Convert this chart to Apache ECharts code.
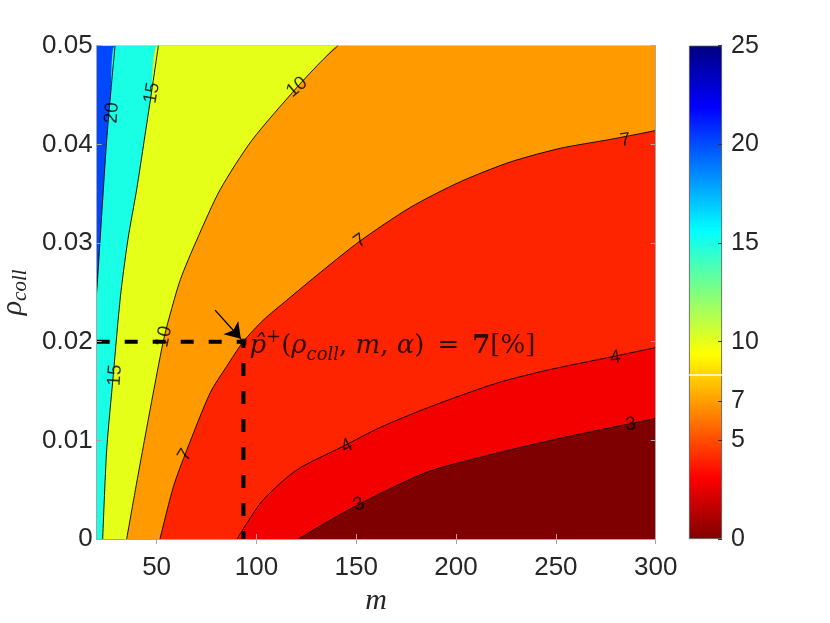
<!DOCTYPE html>
<html>
<head>
<meta charset="utf-8">
<script src="https://cdn.jsdelivr.net/npm/echarts@6/dist/echarts.min.js"></script>
<style>
html, body { margin: 0; padding: 0; background: #fff; }
#chart { width: 830px; height: 623px; }
</style>
</head>
<body>
<div id="chart"></div>
<script>
// axis ranges / ticks
var xMin = 20, xMax = 300;
var yMin = 0, yMax = 0.05;
var xTicks = [50, 100, 150, 200, 250, 300];
var cbMin = 0, cbMax = 25;
var cbTicks = [0, 5, 7, 10, 15, 20, 25];
var cbWhiteLine = 8.3;

// contour lines, points are [m, rho_coll]
var c20 = [[20, 0.025], [21.7, 0.0303], [23.2, 0.035], [25.0, 0.0404], [27.0, 0.0452], [29.2, 0.05]];
var c15 = [[23.0, 0], [25.0, 0.009], [28.3, 0.0166], [31.9, 0.0246], [35.6, 0.0303], [40.0, 0.0354], [43.8, 0.0404], [47.4, 0.0452], [50.9, 0.05]];
var c10 = [[35.0, 0], [39.4, 0.005], [43.9, 0.010], [48.6, 0.0151], [53.5, 0.0202], [56.4, 0.0225], [61.9, 0.0263], [70.1, 0.0303], [81.8, 0.0354], [97.7, 0.0404], [120.4, 0.0458], [133.4, 0.0486], [140.9, 0.05]];
var c7 = [[51.7, 0], [58.4, 0.0053], [65.1, 0.009], [76.8, 0.0148], [85.1, 0.0175], [93.4, 0.02], [103.5, 0.0222], [115.2, 0.0242], [131.9, 0.027], [151.9, 0.0302], [177.0, 0.0336], [202.0, 0.0362], [227.0, 0.0382], [252.2, 0.0396], [277.2, 0.0405], [300, 0.0414]];
var c4 = [[90.3, 0], [95.2, 0.0016], [103.5, 0.004], [120.2, 0.007], [143.5, 0.0094], [161.9, 0.0113], [187.0, 0.0134], [220.4, 0.0158], [245.4, 0.0171], [278.8, 0.0185], [300, 0.0194]];
var c3 = [[121.0, 0], [136.9, 0.0019], [150.3, 0.0034], [166.9, 0.0051], [187.0, 0.0069], [220.4, 0.0087], [245.4, 0.0099], [270.5, 0.011], [300, 0.0122]];

// band colours (flipped jet), from the band above 20 down to the band below 3
var bandTop = '#0047ff';
var bandColors = ['#19ffe6', '#e6ff19', '#ff9a00', '#ff2400', '#f50000', '#7f0000'];

// contour labels
var labelM = [27.7, 47.7, 120.3, 284.7, 151.9, 53.8, 29.2, 64.3, 145.3, 279.7, 151.4, 287.5];
var labelRho = [0.0432, 0.0452, 0.0458, 0.0404, 0.0302, 0.0205, 0.0166, 0.0085, 0.0094, 0.0184, 0.0035, 0.0116];
var labelText = ['20', '15', '10', '7', '7', '10', '15', '7', '4', '4', '3', '3'];
var labelAngle = [86, 80, 40, 8, 35, 78, 86, 60, 28, 8, 22, 6];

// picked point and arrow
var pickM = 93.5, pickRho = 0.02;
var arrowFrom = [79.3, 0.0232], arrowTo = [92.2, 0.0203];

var myChart = echarts.init(document.getElementById('chart'));
var tickColor = '#262626';
var sans = 'Liberation Sans';
var serif = 'DejaVu Serif';

var series = [];
var contours = [c20, c15, c10, c7, c4, c3];
// 填充区域
contours.forEach(function (c, i) {
    var d = c.slice();
    var last = c[c.length - 1];
    if (last[1] >= yMax && last[0] < xMax) d.push([xMax, yMax]);
    series.push({
        type: 'line', xAxisIndex: 0, yAxisIndex: 0, data: d,
        symbol: 'none', smooth: 0.25, silent: true,
        lineStyle: { width: 0 },
        areaStyle: { color: bandColors[i], opacity: 1 },
        z: 2
    });
});
// 等高线
contours.forEach(function (c) {
    series.push({
        type: 'line', xAxisIndex: 0, yAxisIndex: 0, data: c,
        symbol: 'none', smooth: 0.25, silent: true,
        lineStyle: { color: '#000', width: 0.9 },
        z: 3
    });
});
// 等高线标签
series.push({
    type: 'scatter', xAxisIndex: 0, yAxisIndex: 0, symbolSize: 0, silent: true, z: 4,
    data: labelM.map(function (m, i) {
        return {
            value: [m, labelRho[i]],
            label: { show: true, position: 'inside', formatter: labelText[i], rotate: labelAngle[i],
                fontFamily: sans, fontSize: 19, color: '#000' }
        };
    })
});
// 虚线与箭头
series.push({
    type: 'line', xAxisIndex: 0, yAxisIndex: 0,
    data: [[xMin, pickRho], [pickM, pickRho], [pickM, yMin]],
    symbol: 'none', silent: true, z: 5,
    lineStyle: { color: '#000', width: 4, type: [13, 15] },
    markLine: {
        silent: true, symbol: ['none', 'arrow'], symbolSize: 15,
        label: { show: false },
        lineStyle: { color: '#000', width: 1.3, type: 'solid' },
        data: [[{ coord: arrowFrom }, { coord: arrowTo }]]
    }
});
// 注释文字
series.push({
    type: 'scatter', xAxisIndex: 0, yAxisIndex: 0, silent: true, z: 6,
    symbol: 'rect', symbolSize: 6, itemStyle: { color: '#000' },
    data: [[pickM, pickRho]],
    label: {
        show: true, position: 'right', distance: 3, offset: [0, 5],
        formatter: '{i|p\u0302}{sup|+}{a|(}{i|\u03c1}{sub|coll}{a|, }{i|m}{a|, }{i|\u03b1}{a|)\u2002=\u2002}{b|7}{a|[%]}',
        rich: {
            a: { fontFamily: serif, fontSize: 26, color: '#000', lineHeight: 36 },
            i: { fontFamily: serif, fontStyle: 'italic', fontSize: 26, color: '#000', lineHeight: 36 },
            b: { fontFamily: serif, fontWeight: 'bold', fontSize: 26, color: '#000', lineHeight: 36 },
            sup: { fontFamily: serif, fontSize: 18, color: '#000', lineHeight: 24, verticalAlign: 'top' },
            sub: { fontFamily: serif, fontStyle: 'italic', fontSize: 18, color: '#000', lineHeight: 20, verticalAlign: 'bottom' }
        }
    }
});
// 色条
series.push({
    type: 'bar', xAxisIndex: 2, yAxisIndex: 2, data: [cbMax], barWidth: '100%', silent: true,
    itemStyle: {
        borderColor: '#555', borderWidth: 0.8,
        color: new echarts.graphic.LinearGradient(0, 0, 0, 1, [
            { offset: 0, color: '#000080' },
            { offset: 0.125, color: '#0000ff' },
            { offset: 0.375, color: '#00ffff' },
            { offset: 0.5, color: '#80ff80' },
            { offset: 0.625, color: '#ffff00' },
            { offset: 0.875, color: '#ff0000' },
            { offset: 1, color: '#800000' }
        ])
    },
    markLine: {
        silent: true, symbol: 'none', label: { show: false },
        lineStyle: { color: '#fff', width: 1.5, type: 'solid' },
        data: [{ yAxis: cbWhiteLine }]
    }
});

var option = {
    animation: false,
    backgroundColor: '#fff',
    grid: [
        { left: 96.7, top: 45.7, width: 559, height: 493.3, show: true, backgroundColor: bandTop, borderWidth: 0, outerBoundsMode: 'none' },
        { left: 689, top: 45.7, width: 33, height: 493.3, outerBoundsMode: 'none' }
    ],
    xAxis: [
        {
            type: 'value', gridIndex: 0, min: xMin, max: xMax, z: 10,
            name: 'm', nameLocation: 'middle', nameGap: 46,
            nameTextStyle: { fontFamily: 'Liberation Serif', fontStyle: 'italic', fontSize: 30, color: tickColor },
            axisLine: { show: true, lineStyle: { color: '#a6a6a6', width: 1 } },
            axisTick: { show: true, inside: true, length: 5, customValues: xTicks, lineStyle: { color: '#a6a6a6' } },
            axisLabel: { customValues: xTicks, fontFamily: sans, fontSize: 26, color: tickColor, margin: 16 },
            splitLine: { show: false }
        },
        {
            type: 'value', gridIndex: 0, min: xMin, max: xMax, position: 'top', z: 10,
            axisLine: { show: true, lineStyle: { color: '#a6a6a6', width: 1 } },
            axisTick: { show: true, inside: true, length: 5, customValues: xTicks, lineStyle: { color: '#a6a6a6' } },
            axisLabel: { show: false },
            splitLine: { show: false }
        },
        {
            type: 'category', gridIndex: 1, data: [''], show: false
        }
    ],
    yAxis: [
        {
            type: 'value', gridIndex: 0, min: yMin, max: yMax, interval: 0.01, z: 10,
            name: '{i|\u03c1}{s|coll}', nameLocation: 'middle', nameGap: 66,
            nameTextStyle: {
                color: tickColor,
                rich: {
                    i: { fontFamily: 'Liberation Serif', fontStyle: 'italic', fontSize: 30, color: tickColor, lineHeight: 36 },
                    s: { fontFamily: 'Liberation Serif', fontStyle: 'italic', fontSize: 21, color: tickColor, lineHeight: 24, verticalAlign: 'bottom' }
                }
            },
            axisLine: { show: true, lineStyle: { color: '#a6a6a6', width: 1 } },
            axisTick: { show: true, inside: true, length: 5, lineStyle: { color: '#a6a6a6' } },
            axisLabel: {
                fontFamily: sans, fontSize: 26, color: tickColor, margin: 4,
                formatter: function (v) { return v === 0 ? '0' : v.toFixed(2); }
            },
            splitLine: { show: false }
        },
        {
            type: 'value', gridIndex: 0, min: yMin, max: yMax, interval: 0.01, position: 'right', z: 10,
            axisLine: { show: true, lineStyle: { color: '#a6a6a6', width: 1 } },
            axisTick: { show: true, inside: true, length: 5, lineStyle: { color: '#a6a6a6' } },
            axisLabel: { show: false },
            splitLine: { show: false }
        },
        {
            type: 'value', gridIndex: 1, min: cbMin, max: cbMax, position: 'right', z: 10,
            axisLine: { show: false },
            axisTick: { show: true, inside: true, length: 4, customValues: cbTicks, lineStyle: { color: '#333' } },
            axisLabel: { customValues: cbTicks, fontFamily: sans, fontSize: 25, color: tickColor, margin: 9 },
            splitLine: { show: false }
        }
    ],
    series: series
};
myChart.setOption(option);
</script>
</body>
</html>
